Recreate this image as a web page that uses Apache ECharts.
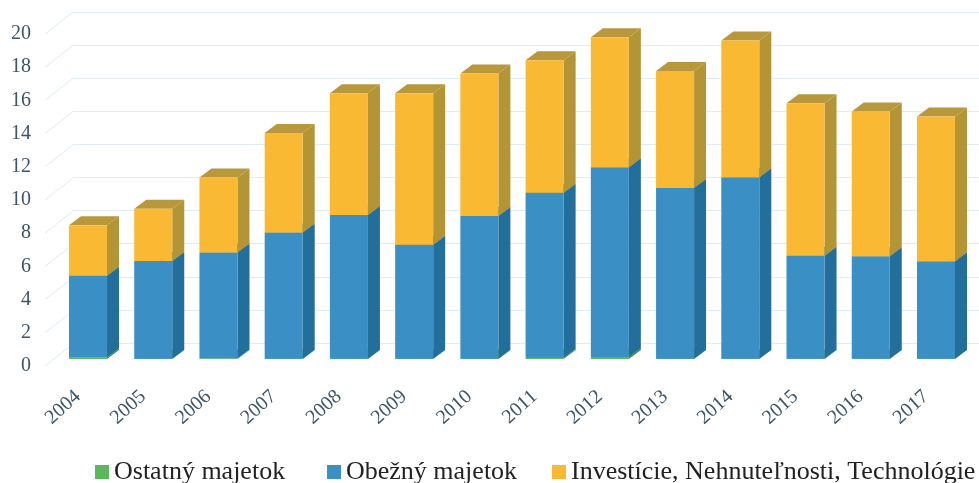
<!DOCTYPE html>
<html><head><meta charset="utf-8">
<script src="https://cdn.jsdelivr.net/npm/echarts@6/dist/echarts.min.js"></script>
<style>html,body{margin:0;padding:0;background:#fff}#c{width:979px;height:483px}</style></head>
<body><div id="c"></div>
<script>
const years=['2004','2005','2006','2007','2008','2009','2010','2011','2012','2013','2014','2015','2016','2017'];
const ostatny=[0.1,0.02,0.05,0.01,0.02,0.02,0.02,0.08,0.12,0.02,0.02,0.02,0.02,0.02];
const obezny=[4.95,5.92,6.4,7.65,8.7,6.9,8.65,10.0,11.5,10.35,11.0,6.24,6.2,5.9];
const investicie=[3.05,3.16,4.55,6.04,7.38,9.18,8.63,8.02,7.88,7.08,8.28,9.24,8.78,8.78];
const ticks=[0,2,4,6,8,10,12,14,16,18,20];
const names=['Ostatný majetok','Obežný majetok','Investície, Nehnuteľnosti, Technológie'];
const colors=[
 {front:'#5cb85c',side:'#3f8f45',top:'#6aa84f'},
 {front:'#3a8fc4',side:'#236f9c',top:'#2a7cab'},
 {front:'#f9b933',side:'#b39535',top:'#b8983a'}];
const depthX=12,depthY=9,barRatio=0.583;
const segs=[ostatny,obezny,investicie];
function triples(i){return years.map((y,k)=>{let s=0;for(let j=0;j<i;j++)s+=segs[j][k];return [k,s,s+segs[i][k]];});}
function barItem(c){return function(params,api){
  const a=api.coord([api.value(0),api.value(1)]),b=api.coord([api.value(0),api.value(2)]);
  const w=api.size([1,0])[0]*barRatio,l=a[0]-w/2,r=a[0]+w/2,y0=a[1],y1=b[1];
  return {type:'group',children:[
   {type:'polygon',shape:{points:[[r,y0],[r+depthX,y0-depthY],[r+depthX,y1-depthY],[r,y1]]},style:{fill:c.side}},
   {type:'polygon',shape:{points:[[l,y1],[r,y1],[r+depthX,y1-depthY],[l+depthX,y1-depthY]]},style:{fill:c.top}},
   {type:'rect',shape:{x:l,y:y1,width:w,height:y0-y1},style:{fill:c.front}}
  ]};
};}
const series=names.map((n,i)=>({name:n,type:'custom',xAxisIndex:0,yAxisIndex:0,z:5,
  data:triples(i),encode:{x:0,y:[1,2]},itemStyle:{color:colors[i].front},renderItem:barItem(colors[i])}));
series.unshift({type:'custom',name:'wall',xAxisIndex:1,yAxisIndex:1,z:1,silent:true,
  data:ticks.map(v=>[0,v]),encode:{x:0,y:1},
  renderItem(params,api){const p=api.coord([0,api.value(1)]);
    return {type:'line',shape:{x1:p[0],y1:p[1],x2:p[0]+28,y2:p[1]-22},style:{stroke:'#deedf6',lineWidth:1}};}});
const chart=echarts.init(document.getElementById('c'));
const hidden={axisLine:{show:false},axisTick:{show:false},axisLabel:{show:false},splitLine:{show:false}};
const legendLefts=[90,322,547];
chart.setOption({
 animation:false,backgroundColor:'#fff',
 grid:[
  {left:55.4,right:10.4,top:29,height:330},
  {left:45,right:0,top:34,height:332},
  {left:73,right:0,top:12,height:331},
  {left:45.4,right:20.4,top:29,height:330}],
 xAxis:[
  {type:'category',gridIndex:0,data:years,...hidden},
  {type:'value',gridIndex:1,min:0,max:1,...hidden},
  {type:'value',gridIndex:2,min:0,max:1,...hidden},
  {type:'category',gridIndex:3,data:years,...hidden,
   axisLabel:{show:true,rotate:42,margin:35,interval:0,fontFamily:'Liberation Serif',fontSize:20,color:'#3d5566'}}],
 yAxis:[
  {type:'value',gridIndex:0,min:0,max:20,...hidden},
  {type:'value',gridIndex:1,min:0,max:20,interval:2,...hidden,
   axisLabel:{show:true,margin:14,fontFamily:'Liberation Serif',fontSize:20,color:'#3d5566'}},
  {type:'value',gridIndex:2,min:0,max:20,interval:2,axisLine:{show:false},axisTick:{show:false},axisLabel:{show:false},
   splitLine:{show:true,lineStyle:{color:'#deedf6',width:1}}},
  {type:'value',gridIndex:3,min:0,max:20,...hidden}],
 legend:names.map((n,i)=>({left:legendLefts[i],top:454,data:[n],icon:'rect',itemWidth:14,itemHeight:14,
   textStyle:{fontFamily:'Liberation Serif',fontSize:26,color:'#222'}})),
 series
});
</script></body></html>
